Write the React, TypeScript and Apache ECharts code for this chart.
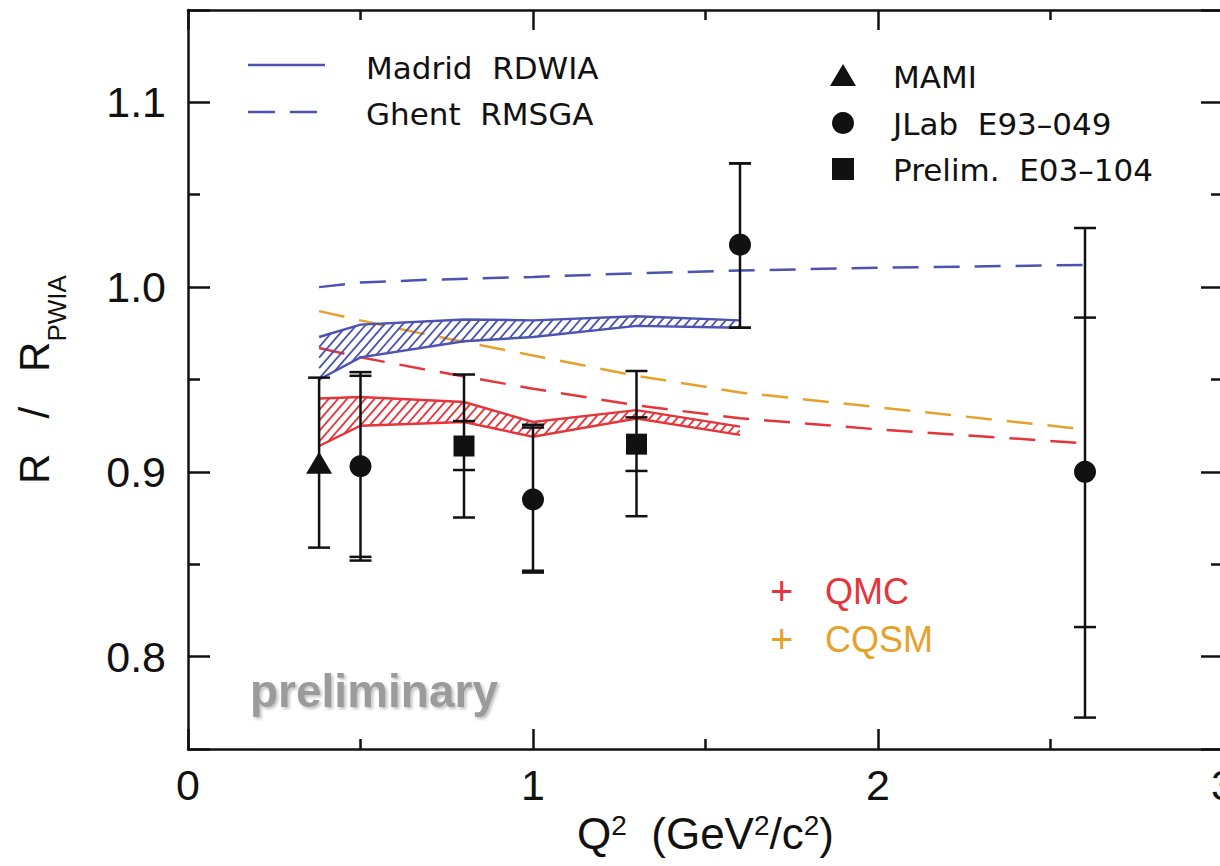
import React, { useEffect, useRef } from 'react';
import * as echarts from 'echarts';

// ---------- axes ----------
const X_MIN = 0;
const X_MAX = 3;
const Y_MIN = 0.75;
const Y_MAX = 1.15;

// ---------- theory: Madrid RDWIA band (blue hatched) ----------
const madridX = [0.38, 0.5, 0.8, 1.0, 1.3, 1.6];
const madridUpper = [0.973, 0.9797, 0.9825, 0.982, 0.9842, 0.982];
const madridLower = [0.95, 0.962, 0.9707, 0.973, 0.979, 0.978];

// ---------- theory: Madrid RDWIA + QMC band (red hatched) ----------
const qmcBandX = [0.38, 0.5, 0.8, 1.0, 1.3, 1.6];
const qmcBandUpper = [0.9397, 0.9405, 0.9378, 0.927, 0.9334, 0.9245];
const qmcBandLower = [0.914, 0.925, 0.927, 0.919, 0.9289, 0.92];

// ---------- theory: Ghent RMSGA curves (dashed) ----------
const ghentX = [0.38, 0.5, 0.7, 1.0, 1.3, 1.6, 2.0, 2.6];
const ghentY = [1.0, 1.0025, 1.004, 1.0055, 1.0075, 1.009, 1.0105, 1.012];
const ghentQmcY = [0.967, 0.962, 0.955, 0.945, 0.936, 0.929, 0.923, 0.9155];
const ghentCqsmY = [0.987, 0.982, 0.974, 0.963, 0.952, 0.943, 0.935, 0.923];

// ---------- data: MAMI ----------
const mamiX = [0.38];
const mamiY = [0.905];
const mamiLo = [0.859];
const mamiHi = [0.951];

// ---------- data: JLab E93-049 ----------
const jlabX = [0.5, 1.0, 1.6, 2.6];
const jlabY = [0.903, 0.885, 1.023, 0.9];
const jlabStatLo = [0.854, 0.8465, 0.978, 0.816];
const jlabStatHi = [0.952, 0.924, 1.067, 0.9835];
const jlabTotLo = [0.852, 0.8455, 0.978, 0.767];
const jlabTotHi = [0.954, 0.9255, 1.067, 1.032];

// ---------- data: Prelim. E03-104 ----------
const e03X = [0.8, 1.3];
const e03Y = [0.914, 0.915];
const e03StatLo = [0.901, 0.9005];
const e03StatHi = [0.9275, 0.9295];
const e03TotLo = [0.8753, 0.876];
const e03TotHi = [0.9527, 0.9546];

// ---------- labels ----------
const legendLeft = ['Madrid  RDWIA', 'Ghent  RMSGA'];
const legendRight = ['MAMI', 'JLab  E93–049', 'Prelim.  E03–104'];
const extraLabels = ['QMC', 'CQSM'];
const watermark = 'preliminary';

const FONT = '"Liberation Sans", Arial, Helvetica, sans-serif';
const LFONT = '"DejaVu Sans", "Liberation Sans", sans-serif';
const BLUE = '#4b52b0';
const RED = '#e5353a';
const ORANGE = '#e6a12a';
const INK = '#111111';

function bandSeries(xs: number[], ups: number[], lows: number[], color: string) {
  return {
    type: 'custom',
    silent: true,
    z: 3,
    data: [[xs[0], ups[0]]],
    encode: { x: 0, y: 1 },
    renderItem: (params: any, api: any) => {
      if (params.dataIndex !== 0) return null;
      const U: number[][] = xs.map((x, i) => api.coord([x, ups[i]]));
      const L: number[][] = xs.map((x, i) => api.coord([x, lows[i]]));
      const yAt = (P: number[][], x: number) => {
        for (let i = 0; i < P.length - 1; i++) {
          const [xa, ya] = P[i];
          const [xb, yb] = P[i + 1];
          if (x >= xa && x <= xb) return ya + ((yb - ya) * (x - xa)) / (xb - xa);
        }
        return P[P.length - 1][1];
      };
      const x0 = U[0][0];
      const x1 = U[U.length - 1][0];
      const k = 1.15;
      const step = 10.5;
      let cMin = Infinity;
      let cMax = -Infinity;
      for (const p of U.concat(L)) {
        const c = p[1] + k * p[0];
        cMin = Math.min(cMin, c);
        cMax = Math.max(cMax, c);
      }
      const children: any[] = [];
      for (let c = Math.ceil(cMin / step) * step; c <= cMax; c += step) {
        let first: number | null = null;
        let last: number | null = null;
        for (let x = x0; x <= x1; x += 0.5) {
          const y = c - k * x;
          if (y >= yAt(U, x) - 0.3 && y <= yAt(L, x) + 0.3) {
            if (first === null) first = x;
            last = x;
          }
        }
        if (first !== null && last !== null && last - first > 0.6) {
          children.push({
            type: 'line',
            shape: { x1: first, y1: c - k * first, x2: last, y2: c - k * last },
            style: { stroke: color, lineWidth: 1.8 },
          });
        }
      }
      children.push({ type: 'polyline', shape: { points: U }, style: { stroke: color, lineWidth: 2.4, fill: 'none' } });
      children.push({ type: 'polyline', shape: { points: L }, style: { stroke: color, lineWidth: 2.4, fill: 'none' } });
      return { type: 'group', children };
    },
  };
}

function errorSeries(xs: number[], los: number[], his: number[], stem: boolean) {
  return {
    type: 'custom',
    silent: true,
    z: 4,
    data: xs.map((x, i) => [x, los[i], his[i]]),
    encode: { x: 0, y: [1, 2] },
    renderItem: (params: any, api: any) => {
      const x = api.value(0);
      const top = api.coord([x, api.value(2)]);
      const bot = api.coord([x, api.value(1)]);
      const w = 11;
      const st = { stroke: INK, lineWidth: 2.5 };
      const children: any[] = [];
      if (stem) children.push({ type: 'line', shape: { x1: top[0], y1: top[1], x2: bot[0], y2: bot[1] }, style: st });
      children.push({ type: 'line', shape: { x1: top[0] - w, y1: top[1], x2: top[0] + w, y2: top[1] }, style: st });
      children.push({ type: 'line', shape: { x1: bot[0] - w, y1: bot[1], x2: bot[0] + w, y2: bot[1] }, style: st });
      return { type: 'group', children };
    },
  };
}

function dashedLine(xs: number[], ys: number[], color: string) {
  return {
    type: 'line',
    silent: true,
    z: 2,
    showSymbol: false,
    symbol: 'none',
    data: xs.map((x, i) => [x, ys[i]]),
    lineStyle: { color, width: 2.5, type: [26, 15] },
  };
}

const axisCommon = {
  type: 'value',
  axisLine: { show: true, onZero: false, lineStyle: { color: INK, width: 2.5 } },
  splitLine: { show: false },
  minorSplitLine: { show: false },
};

export default function App() {
  const ref = useRef<HTMLDivElement>(null);

  useEffect(() => {
    if (!ref.current) return;
    const chart = echarts.init(ref.current, null, { renderer: 'svg' });

    const xTick = { show: true, inside: true, length: 20, lineStyle: { color: INK, width: 2.5 } };
    const xMinor = { show: true, splitNumber: 2, length: 10, lineStyle: { color: INK, width: 2.5 } };
    const yTick = { show: true, inside: true, length: 22, lineStyle: { color: INK, width: 2.5 } };
    const yMinor = { show: true, splitNumber: 2, length: 12, lineStyle: { color: INK, width: 2.5 } };

    const option: any = {
      animation: false,
      backgroundColor: '#ffffff',
      grid: { left: 188, right: -3, top: 10, bottom: 117, containLabel: false, outerBoundsMode: 'none' },
      xAxis: [
        {
          ...axisCommon,
          position: 'bottom',
          min: X_MIN,
          max: X_MAX,
          interval: 1,
          axisTick: xTick,
          minorTick: xMinor,
          axisLabel: {
            show: true,
            margin: 14,
            fontSize: 43,
            color: INK,
            fontFamily: FONT,
            showMaxLabel: true,
            showMinLabel: true,
            hideOverlap: false,
            formatter: (v: number) => String(v),
          },
          name: '{n|Q}{s|2}{n|  (GeV}{s|2}{n|/c}{s|2}{n|)}',
          nameLocation: 'middle',
          nameGap: 62,
          nameTextStyle: {
            color: INK,
            rich: {
              n: { fontSize: 44, fontFamily: FONT, color: INK, lineHeight: 44 },
              s: { fontSize: 28, fontFamily: FONT, color: INK, lineHeight: 28, verticalAlign: 'top' },
            },
          },
        },
        {
          ...axisCommon,
          position: 'top',
          min: X_MIN,
          max: X_MAX,
          interval: 1,
          axisTick: xTick,
          minorTick: xMinor,
          axisLabel: { show: false },
        },
      ],
      yAxis: [
        {
          ...axisCommon,
          position: 'left',
          min: Y_MIN,
          max: Y_MAX,
          splitNumber: 4,
          axisTick: yTick,
          minorTick: yMinor,
          axisLabel: {
            show: true,
            margin: 22,
            fontSize: 43,
            color: INK,
            fontFamily: FONT,
            showMinLabel: false,
            showMaxLabel: false,
            formatter: (v: number) => v.toFixed(1),
          },
          name: '{r|R   /   R}{b|PWIA}',
          nameLocation: 'middle',
          nameRotate: 90,
          nameGap: 118,
          nameTextStyle: {
            color: INK,
            rich: {
              r: { fontSize: 42, fontFamily: FONT, color: INK, lineHeight: 71 },
              b: { fontSize: 26, fontFamily: FONT, color: INK, lineHeight: 26, verticalAlign: 'bottom' },
            },
          },
        },
        {
          ...axisCommon,
          position: 'right',
          min: Y_MIN,
          max: Y_MAX,
          splitNumber: 4,
          axisTick: yTick,
          minorTick: yMinor,
          axisLabel: { show: false },
        },
      ],
      series: [
        dashedLine(ghentX, ghentY, BLUE),
        dashedLine(ghentX, ghentCqsmY, ORANGE),
        dashedLine(ghentX, ghentQmcY, RED),
        bandSeries(madridX, madridUpper, madridLower, BLUE),
        bandSeries(qmcBandX, qmcBandUpper, qmcBandLower, RED),
        errorSeries(mamiX, mamiLo, mamiHi, true),
        errorSeries(jlabX, jlabTotLo, jlabTotHi, true),
        errorSeries(jlabX, jlabStatLo, jlabStatHi, false),
        errorSeries(e03X, e03TotLo, e03TotHi, true),
        errorSeries(e03X, e03StatLo, e03StatHi, false),
        {
          type: 'scatter',
          name: legendRight[0],
          z: 5,
          symbol: 'triangle',
          symbolSize: [26, 22],
          itemStyle: { color: INK, opacity: 1 },
          data: mamiX.map((x, i) => [x, mamiY[i]]),
        },
        {
          type: 'scatter',
          name: legendRight[1],
          z: 5,
          symbol: 'circle',
          symbolSize: 22,
          itemStyle: { color: INK, opacity: 1 },
          data: jlabX.map((x, i) => [x, jlabY[i]]),
        },
        {
          type: 'scatter',
          name: legendRight[2],
          z: 5,
          symbol: 'rect',
          symbolSize: 21,
          itemStyle: { color: INK, opacity: 1 },
          data: e03X.map((x, i) => [x, e03Y[i]]),
        },
      ],
      graphic: [
        // left legend
        { type: 'line', shape: { x1: 248, y1: 65, x2: 325, y2: 65 }, style: { stroke: BLUE, lineWidth: 2.5 } },
        { type: 'line', shape: { x1: 248, y1: 112, x2: 325, y2: 112 }, style: { stroke: BLUE, lineWidth: 2.5, lineDash: [27, 15] } },
        { type: 'text', x: 366, y: 68, style: { text: legendLeft[0], font: `31px ${LFONT}`, fill: INK, verticalAlign: 'middle' } },
        { type: 'text', x: 366, y: 114, style: { text: legendLeft[1], font: `31px ${LFONT}`, fill: INK, verticalAlign: 'middle' } },
        // right legend
        { type: 'polygon', shape: { points: [[830, 86], [856, 86], [843, 64]] }, style: { fill: INK } },
        { type: 'circle', shape: { cx: 843, cy: 123, r: 11 }, style: { fill: INK } },
        { type: 'rect', shape: { x: 832, y: 158, width: 22, height: 22 }, style: { fill: INK } },
        { type: 'text', x: 893, y: 77, style: { text: legendRight[0], font: `31px ${LFONT}`, fill: INK, verticalAlign: 'middle' } },
        { type: 'text', x: 893, y: 124, style: { text: legendRight[1], font: `31px ${LFONT}`, fill: INK, verticalAlign: 'middle' } },
        { type: 'text', x: 893, y: 170, style: { text: legendRight[2], font: `31px ${LFONT}`, fill: INK, verticalAlign: 'middle' } },
        // + QMC / + CQSM
        { type: 'text', x: 770, y: 591, style: { text: '+', font: `40px ${FONT}`, fill: RED, verticalAlign: 'middle' } },
        { type: 'text', x: 825, y: 591, style: { text: extraLabels[0], font: `36px ${FONT}`, fill: RED, verticalAlign: 'middle' } },
        { type: 'text', x: 770, y: 639, style: { text: '+', font: `40px ${FONT}`, fill: ORANGE, verticalAlign: 'middle' } },
        { type: 'text', x: 825, y: 639, style: { text: extraLabels[1], font: `36px ${FONT}`, fill: ORANGE, verticalAlign: 'middle' } },
        // watermark
        {
          type: 'text',
          x: 250,
          y: 691,
          style: {
            text: watermark,
            font: `bold 46px ${FONT}`,
            fill: '#9b9b9b',
            verticalAlign: 'middle',
            textShadowColor: 'rgba(0,0,0,0.25)',
            textShadowBlur: 3,
            textShadowOffsetX: 2,
            textShadowOffsetY: 2,
          },
        },
      ],
    };

    chart.setOption(option);
    return () => chart.dispose();
  }, []);

  return <div ref={ref} style={{ position: 'absolute', left: 0, top: 0, width: 1220, height: 866 }} />;
}
